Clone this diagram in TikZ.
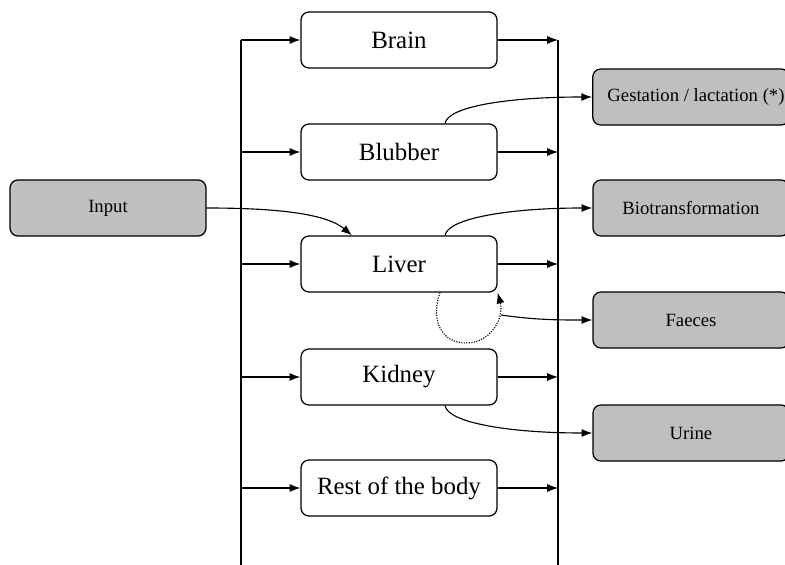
\documentclass[tikz,border=0pt]{standalone}
\usepackage{fontspec}
\setmainfont{Liberation Serif}
\newfontfamily\timesfam{Liberation Serif}
\usetikzlibrary{arrows.meta}
\tikzset{
  organ/.style={draw, line width=0.9pt, rounded corners=0.2cm, fill=white,
    minimum width=4.9cm, minimum height=1.4cm, font=\timesfam\fontsize{17.7}{20}\selectfont},
  outbox/.style={draw, line width=0.9pt, rounded corners=0.2cm, fill=black!25,
    minimum width=4.9cm, minimum height=1.4cm, font=\timesfam\fontsize{13.3}{16}\selectfont},
  flow/.style={line width=0.8pt, -{Latex[length=0.27cm,width=0.2cm]}},
  wall/.style={line width=1.4pt}
}
\begin{document}
\begin{tikzpicture}[x=0.025cm,y=0.025cm]
        \useasboundingbox (0,0) rectangle (785,-565);
        \clip (0,0) rectangle (785,-565);

        % the two blood lines
        \coordinate (ltop) at (241,-40);
        \coordinate (lbot) at (241,-565);
        \coordinate (rtop) at (558,-40);
        \coordinate (rbot) at (558,-565);
        \draw[wall] (ltop) -- (lbot);
        \draw[wall] (rtop) -- (rbot);

        \node[organ] (brain) at (399,-40) {Brain};
        \node[organ] (blubber) at (399,-152) {Blubber};
        \node[organ] (liver) at (399,-264) {Liver};
        \node[organ] (kidney) at (399,-377) {Kidney};
        \node[organ] (rest) at (399,-488) {Rest of the body};

        \node[outbox] (input) at (108,-208) {Input};
        \node[outbox] (gest) at (691,-97) {\hspace{0.25cm}Gestation / lactation (*)};
        \node[outbox] (bio) at (691,-208) {Biotransformation};
        \node[outbox] (faeces) at (691,-320) {Faeces};
        \node[outbox] (urine) at (691,-433) {Urine};

        \foreach \o in {brain,blubber,liver,kidney,rest} {
            \draw[flow] (\o.west -| ltop) -- (\o.west);
            \draw[flow] (\o.east) -- (\o.east -| rtop);
        }

        \draw[flow] (input.east) to[out=0,in=140,out looseness=1.5,in looseness=0.5] ([xshift=-1.175cm]liver.north);
        \draw[flow] ([xshift=1.15cm]blubber.north) to[out=80,in=180,out looseness=0.3,in looseness=1.4] (gest.west);
        \draw[flow] ([xshift=1.15cm]liver.north) to[out=80,in=180,out looseness=0.3,in looseness=1.4] (bio.west);
        \draw[flow] ([xshift=1.15cm]kidney.south) to[out=-80,in=180,out looseness=0.3,in looseness=1.4] (urine.west);

        % loop back into the liver
        \coordinate (loopbot) at (466,-343);
        \coordinate (loopr) at (501,-315);
        \draw[flow, densely dotted] ([xshift=1.025cm]liver.south) to[out=-110,in=180,looseness=1.2] (loopbot)
            to[out=0,in=-75,looseness=1.1] (liver.south east);
        \draw[flow] (loopr) to[out=-8,in=180] (faeces.west);

    \end{tikzpicture}
\end{document}
